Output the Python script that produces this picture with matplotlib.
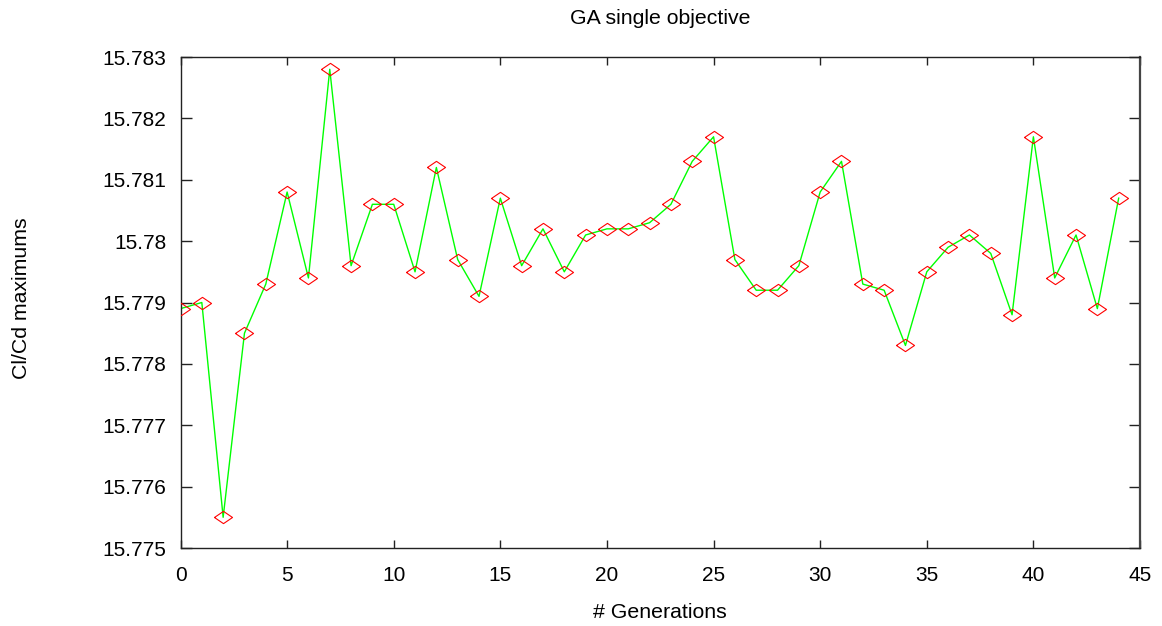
import matplotlib
matplotlib.use("Agg")
import matplotlib.pyplot as plt
import numpy as np

# GA single objective - best Cl/Cd per generation
generations = list(range(45))
cl_cd_max = [15.7789, 15.7790, 15.7755, 15.7785, 15.7793, 15.7808, 15.7794, 15.7828,
             15.7796, 15.7806, 15.7806, 15.7795, 15.7812, 15.7797, 15.7791, 15.7807,
             15.7796, 15.7802, 15.7795, 15.7801, 15.7802, 15.7802, 15.7803, 15.7806,
             15.7813, 15.7817, 15.7797, 15.7792, 15.7792, 15.7796, 15.7808, 15.7813,
             15.7793, 15.7792, 15.7783, 15.7795, 15.7799, 15.7801, 15.7798, 15.7788,
             15.7817, 15.7794, 15.7801, 15.7789, 15.7807]

xticks = [0, 5, 10, 15, 20, 25, 30, 35, 40, 45]
yticks = [15.775, 15.776, 15.777, 15.778, 15.779, 15.780, 15.781, 15.782, 15.783]
ytick_labels = ['15.775', '15.776', '15.777', '15.778', '15.779', '15.78', '15.781', '15.782', '15.783']

plt.rcParams['font.family'] = ['Liberation Sans', 'DejaVu Sans']

W, H = 1162, 626
fig = plt.figure(figsize=(W / 100, H / 100), dpi=100)
ax = fig.add_axes([180.5 / W, 1 - 548 / H, (1140 - 180.5) / W, (548 - 57) / H])

# flattened diamond like the gnuplot point type
diamond = [(-1, 0), (0, 0.68), (1, 0), (0, -0.68), (-1, 0)]
ax.plot(generations, cl_cd_max, color='#00ff00', linewidth=1.0, zorder=2)
ax.plot(generations, cl_cd_max, linestyle='none', marker=diamond, markersize=13,
        markerfacecolor='none', markeredgecolor='#ff0000', markeredgewidth=0.8, zorder=3)

ax.set_xlim(0, 45)
ax.set_ylim(15.775, 15.783)
ax.set_xticks(xticks)
ax.set_yticks(yticks)
ax.set_yticklabels(ytick_labels)
ax.tick_params(axis='both', direction='in', top=True, right=True, labelsize=15, width=1.0, color='#222222')
ax.tick_params(axis='x', length=6, pad=13)
ax.tick_params(axis='y', length=8, pad=10)
for s in ax.spines.values():
    s.set_linewidth(1.0)
    s.set_color('#222222')
ax.spines['right'].set_linewidth(1.6)
ax.spines['right'].set_color('#444444')

fig.text(660 / W, 1 - 19 / H, 'GA single objective', ha='center', va='center', fontsize=15.3)
fig.text(660 / W, 1 - 613 / H, '# Generations', ha='center', va='center', fontsize=15.3)
fig.text(22 / W, 1 - 298 / H, 'Cl/Cd maximums', ha='center', va='center', rotation=90, fontsize=15.3)

fig.savefig('out.png', dpi=100)
